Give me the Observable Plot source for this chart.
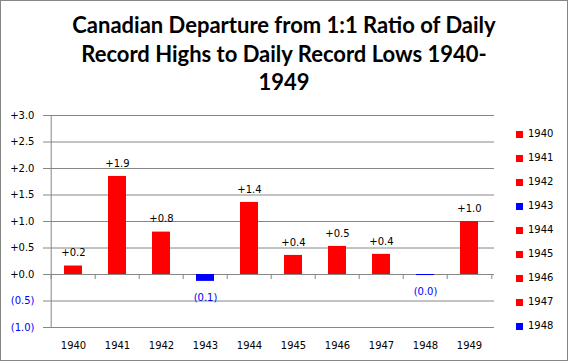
<!DOCTYPE html>
<html><head><meta charset="utf-8">
<script src="https://cdn.jsdelivr.net/npm/d3@7"></script>
<script src="https://cdn.jsdelivr.net/npm/@observablehq/plot@0.6"></script>
<style>
html,body{margin:0;padding:0;background:#fff;}
#chart{position:relative;width:568px;height:361px;overflow:hidden;background:#fff;font-family:"DejaVu Sans";}
#title{position:absolute;left:0;top:11px;width:568px;text-align:center;font-family:Lato;font-weight:bold;font-size:22px;line-height:28.5px;color:#000;}
#plot{position:absolute;left:0;top:0;}
#legend{position:absolute;left:0;top:0;}
.item{position:absolute;left:516px;height:12px;font-size:10px;line-height:12px;color:#000;white-space:nowrap;}
.sw{position:absolute;left:0;top:2.5px;width:7px;height:7px;}
.lt{position:absolute;left:12px;top:0;}
#border{position:absolute;left:0;top:0;width:568px;height:361px;box-sizing:border-box;border:1px solid #868686;pointer-events:none;}
</style>
</head><body>
<div id="chart">
  <div id="plot"></div>
  <div id="title">Canadian Departure from 1:1 Ratio of Daily<br>Record Highs to Daily Record Lows 1940-<br>1949</div>
  <div id="legend"></div>
  <div id="border"></div>
</div>
<script>
const years = ["1940","1941","1942","1943","1944","1945","1946","1947","1948","1949"];
const values = [0.16, 1.85, 0.80, -0.13, 1.36, 0.36, 0.53, 0.38, -0.02, 1.00];
const labels = ["+0.2","+1.9","+0.8","(0.1)","+1.4","+0.4","+0.5","+0.4","(0.0)","+1.0"];
const yTicks = [-1, -0.5, 0, 0.5, 1, 1.5, 2, 2.5, 3];
const legendYears = years.slice(0, 9);

const RED = "#FF0000", BLUE = "#0000FF", GRID = "#868686";
const data = years.map((year, i) => ({year, value: values[i], label: labels[i]}));
const colorOf = v => v < 0 ? BLUE : RED;
const fmt = d => d < 0 ? `(${(-d).toFixed(1)})` : `+${d.toFixed(1)}`;

const W = 568, H = 361, ML = 48, MR = 74, MT = 115, MB = 34;
const step = (W - ML - MR) / years.length;

const chart = Plot.plot({
  width: W, height: H,
  marginLeft: ML, marginRight: MR, marginTop: MT, marginBottom: MB,
  style: {fontFamily: "DejaVu Sans", fontSize: "10px", background: "transparent", color: "#000"},
  x: {domain: years, paddingInner: 0.6, paddingOuter: 0.3, axis: null, label: null},
  y: {domain: [-1, 3], axis: null, label: null},
  marks: [
    Plot.ruleY(yTicks, {stroke: GRID, strokeWidth: 1}),
    Plot.ruleX([years[0]], {y1: -1, y2: 3, dx: -step / 2, stroke: GRID}),
    Plot.axisY(yTicks.filter(d => d >= 0), {tickSize: 5, tickPadding: 9, stroke: GRID, fill: "#000", tickFormat: fmt, fontSize: 10, label: null}),
    Plot.axisY(yTicks.filter(d => d < 0), {tickSize: 5, tickPadding: 9, stroke: GRID, fill: BLUE, tickFormat: fmt, fontSize: 10, label: null}),
    Plot.ruleX(data, {x: "year", y1: 0, y2: 0, dx: -step / 2, insetBottom: -5, stroke: GRID}),
    Plot.ruleX([years[years.length - 1]], {y1: 0, y2: 0, dx: step / 2, insetBottom: -5, stroke: GRID}),
    Plot.barY(data, {x: "year", y: "value", fill: d => colorOf(d.value)}),
    Plot.text(data.filter(d => d.value >= 0), {x: "year", y: "value", text: "label", dy: -13, fill: "#000", fontSize: 10}),
    Plot.text(data.filter(d => d.value < 0), {x: "year", y: "value", text: "label", dy: 16, fill: BLUE, fontSize: 10}),
    Plot.axisX(years, {tickSize: 0, tickPadding: 14, fill: "#000", fontSize: 10, label: null})
  ]
});
document.getElementById("plot").appendChild(chart);

const legend = document.getElementById("legend");
legendYears.forEach((y, i) => {
  const idx = years.indexOf(y);
  const item = document.createElement("div");
  item.className = "item";
  item.style.top = (128 + 24 * i) + "px";
  item.innerHTML = `<span class="sw" style="background:${colorOf(values[idx])}"></span><span class="lt">${y}</span>`;
  legend.appendChild(item);
});
</script>
</body></html>
